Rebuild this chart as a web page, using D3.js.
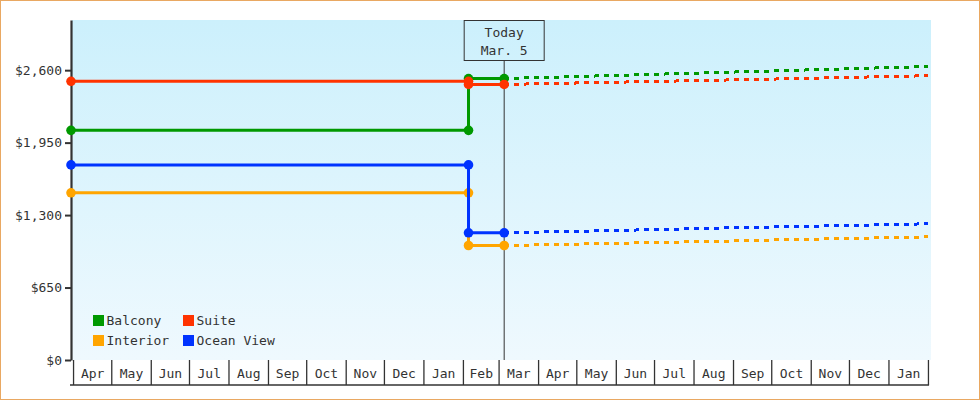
<!DOCTYPE html>
<html>
<head>
<meta charset="utf-8">
<script src="https://cdn.jsdelivr.net/npm/d3@7/dist/d3.min.js"></script>
<style>
  html, body { margin: 0; padding: 0; background: #fff; }
  svg { display: block; font-family: "DejaVu Sans Mono", monospace; }
</style>
</head>
<body>
<svg id="chart" width="980" height="400"></svg>
<script>
// Cabin fares: recorded history up to today, then the projected trend.
const seriesNames = ["Balcony", "Suite", "Interior", "Ocean View"];
const seriesColors = ["#009900", "#ff3300", "#ffa500", "#0033ff"];

// Recorded prices (a step on Feb. 5)
const historyDates = ["2024-03-30", "2025-02-05", "2025-02-05", "2025-03-05"];
const balconyHistory = [2060, 2060, 2525, 2525];
const suiteHistory = [2500, 2500, 2472, 2472];
const interiorHistory = [1500, 1500, 1027, 1027];
const oceanViewHistory = [1750, 1750, 1141, 1141];

// Projected prices from today on
const forecastDates = ["2025-03-05", "2025-04-01", "2025-05-01", "2025-06-01", "2025-07-01", "2025-08-01",
                       "2025-09-01", "2025-10-01", "2025-11-01", "2025-12-01", "2026-01-01", "2026-02-01"];
const balconyForecast = [2525, 2533, 2543, 2553, 2563, 2573, 2583, 2593, 2603, 2613, 2623, 2633];
const suiteForecast = [2472, 2478, 2485, 2492, 2499, 2506, 2513, 2520, 2527, 2535, 2543, 2550];
const interiorForecast = [1027, 1033, 1040, 1047, 1054, 1061, 1068, 1076, 1083, 1090, 1098, 1105];
const oceanViewForecast = [1141, 1148, 1155, 1162, 1170, 1178, 1186, 1193, 1200, 1207, 1215, 1222];

// Axis labels
const priceTicks = [0, 650, 1300, 1950, 2600];
const monthLabels = ["Apr", "May", "Jun", "Jul", "Aug", "Sep", "Oct", "Nov", "Dec", "Jan", "Feb",
                     "Mar", "Apr", "May", "Jun", "Jul", "Aug", "Sep", "Oct", "Nov", "Dec", "Jan"];
const firstMonth = "2024-04-01";
const todayDate = "2025-03-05";
const todayLabel = ["Today", "Mar. 5"];
const domainDates = ["2024-03-30", "2026-02-03"];
const priceMax = 3050;

const parse = d3.timeParse("%Y-%m-%d");
const svg = d3.select("#chart");
const ink = "#333";

const plotLeft = 71, plotRight = 931, plotTop = 20, plotBottom = 360;

const x = d3.scaleTime().domain(domainDates.map(parse)).range([plotLeft, plotRight]);
const y = d3.scaleLinear().domain([0, priceMax]).range([plotBottom, plotTop]);

// outer frame
svg.append("rect").attr("x", 0.5).attr("y", 0.5).attr("width", 979).attr("height", 399)
  .attr("fill", "#fff").attr("stroke", "#e9a862").attr("stroke-width", 1);

// plot background gradient
const defs = svg.append("defs");
const grad = defs.append("linearGradient").attr("id", "bg").attr("x1", 0).attr("y1", 0).attr("x2", 0).attr("y2", 1);
grad.append("stop").attr("offset", "0%").attr("stop-color", "#ccf0fc");
grad.append("stop").attr("offset", "100%").attr("stop-color", "#eff9fe");
svg.append("rect").attr("x", plotLeft + 1).attr("y", plotTop).attr("width", plotRight - plotLeft - 1).attr("height", plotBottom - plotTop)
  .attr("fill", "url(#bg)");

// month boxes along the bottom
const monthStarts = d3.timeMonth.range(parse(firstMonth), d3.timeMonth.offset(parse(firstMonth), monthLabels.length + 1));
const xAxis = svg.append("g").attr("class", "x-axis");
xAxis.selectAll("line.sep").data(monthStarts).join("line").attr("class", "sep")
  .attr("x1", d => x(d)).attr("x2", d => x(d)).attr("y1", plotBottom).attr("y2", 385)
  .attr("stroke", ink).attr("stroke-width", 1.3);
xAxis.append("line").attr("x1", plotLeft - 1).attr("x2", x(monthStarts[monthStarts.length - 1]) + 0.6)
  .attr("y1", 385).attr("y2", 385).attr("stroke", ink).attr("stroke-width", 1.3);
xAxis.selectAll("text").data(monthLabels).join("text")
  .attr("x", (d, i) => (x(monthStarts[i]) + x(monthStarts[i + 1])) / 2)
  .attr("y", 378).attr("text-anchor", "middle").attr("font-size", 13).attr("fill", ink)
  .text(d => d);

// price axis
const yAxis = d3.axisLeft(y).tickValues(priceTicks).tickFormat(d3.format("$,")).tickSize(6).tickSizeOuter(0).tickPadding(3);
const yg = svg.append("g").attr("transform", `translate(${plotLeft},0)`).call(yAxis);
yg.select(".domain").attr("stroke", ink).attr("stroke-width", 2.2);
yg.selectAll(".tick line").attr("stroke", ink).attr("stroke-width", 2);
yg.selectAll(".tick text").attr("fill", ink).attr("font-size", 13).attr("font-family", "DejaVu Sans Mono, monospace");

// today marker
const tx = x(parse(todayDate));
svg.append("line").attr("x1", tx).attr("x2", tx).attr("y1", 61).attr("y2", plotBottom)
  .attr("stroke", ink).attr("stroke-width", 1);
svg.append("rect").attr("x", tx - 40).attr("y", 20.5).attr("width", 80).attr("height", 40)
  .attr("fill", "none").attr("stroke", ink).attr("stroke-width", 1);
svg.selectAll("text.today").data(todayLabel).join("text").attr("class", "today")
  .attr("x", tx).attr("y", (d, i) => 37 + i * 17.5).attr("text-anchor", "middle")
  .attr("font-size", 13).attr("fill", ink).text(d => d);

// series
const history = [balconyHistory, suiteHistory, interiorHistory, oceanViewHistory];
const forecast = [balconyForecast, suiteForecast, interiorForecast, oceanViewForecast];
const line = d3.line().x(d => x(d.date)).y(d => y(d.value));

seriesNames.forEach((name, i) => {
  const past = historyDates.map((d, j) => ({ date: parse(d), value: history[i][j] }));
  const future = forecastDates.map((d, j) => ({ date: parse(d), value: forecast[i][j] }));
  const g = svg.append("g").attr("class", "series");
  g.append("path").datum(future).attr("d", line).attr("fill", "none")
    .attr("stroke", seriesColors[i]).attr("stroke-width", 3).attr("stroke-dasharray", "5,5")
    .attr("shape-rendering", "crispEdges");
  g.append("path").datum(past).attr("d", line).attr("fill", "none")
    .attr("stroke", seriesColors[i]).attr("stroke-width", 3).attr("stroke-linejoin", "miter");
  g.selectAll("circle").data(past).join("circle")
    .attr("cx", d => x(d.date)).attr("cy", d => y(d.value)).attr("r", 4.8)
    .attr("fill", seriesColors[i]);
});

// legend
const legend = svg.append("g").attr("class", "legend");
seriesNames.forEach((name, i) => {
  const lx = 93 + (i % 2) * 90, ly = 315 + Math.floor(i / 2) * 20;
  legend.append("rect").attr("x", lx).attr("y", ly).attr("width", 11).attr("height", 11).attr("fill", seriesColors[i]);
  legend.append("text").attr("x", lx + 13.5).attr("y", ly + 10).attr("font-size", 13).attr("fill", ink).text(name);
});
</script>
</body>
</html>
